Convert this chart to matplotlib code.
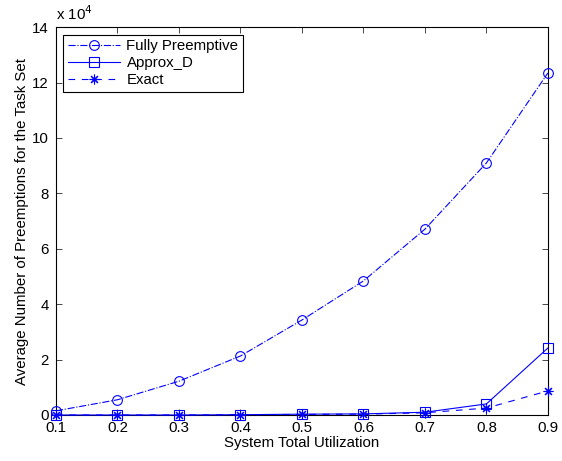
import numpy as np
import matplotlib.pyplot as plt

plt.rcParams['font.family'] = ['Liberation Sans', 'DejaVu Sans']
plt.rcParams['font.size'] = 10.8

# utilization and preemption counts (units of 1e4)
util = [0.1, 0.2, 0.3, 0.4, 0.5, 0.6, 0.7, 0.8, 0.9]
fully_preemptive = [0.15, 0.55, 1.22, 2.13, 3.43, 4.84, 6.71, 9.1, 12.35]
approx_d = [0.0, 0.0, 0.0, 0.01, 0.03, 0.04, 0.1, 0.4, 2.42]
exact = [0.0, 0.0, 0.0, 0.01, 0.02, 0.03, 0.08, 0.25, 0.87]

fig = plt.figure(figsize=(5.62, 4.61), dpi=100)
ax = fig.add_axes([0.0996, 0.0998, 0.8754, 0.8412])

ax.plot(util, fully_preemptive, color='blue', linestyle='-.', linewidth=0.8,
        marker='o', markersize=7, markerfacecolor='none', markeredgewidth=0.8,
        label='Fully Preemptive', clip_on=False, zorder=3)
ax.plot(util, approx_d, color='blue', linestyle='-', linewidth=0.8,
        marker='s', markersize=7, markerfacecolor='none', markeredgewidth=0.8,
        label='Approx_D', clip_on=False, zorder=3)
ax.plot(util, exact, color='blue', linestyle=(0, (6, 6)), linewidth=0.8,
        marker=(8, 2, 0), markersize=7, markeredgewidth=0.8,
        label='Exact', clip_on=False, zorder=3)

ax.set_xlim(0.1, 0.9)
ax.set_ylim(0, 14)
ax.set_xticks(util)
ax.set_xticklabels([f'{u:.1f}' for u in util])
ax.set_yticks(np.arange(0, 15, 2))
ax.tick_params(direction='in', top=True, right=True, length=4, width=0.5)
ax.tick_params(axis='x', pad=4)
ax.tick_params(axis='y', pad=5)
for s in ax.spines.values():
    s.set_linewidth(0.8)

ax.text(0.0, 1.012, r'x 10$^4$', transform=ax.transAxes, ha='left', va='bottom')

ax.set_xlabel('System Total Utilization', labelpad=1)
ax.set_ylabel('Average Number of Preemptions for the Task Set', labelpad=2)

leg = ax.legend(loc='upper left', fancybox=False, edgecolor='black',
                framealpha=1, borderaxespad=0.5, handlelength=3.5,
                borderpad=0.3, labelspacing=0.2, handletextpad=0.4)
leg.get_frame().set_linewidth(0.8)

fig.savefig('out.png', dpi=100)
